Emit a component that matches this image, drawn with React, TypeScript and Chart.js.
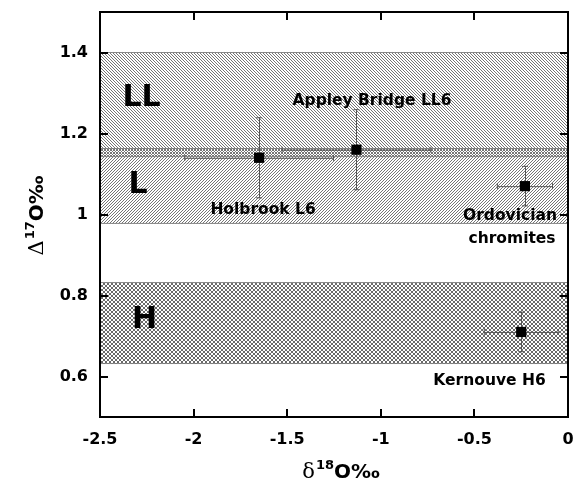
import React, { useEffect, useRef } from "react";
import { Chart, registerables } from "chart.js";

Chart.register(...registerables);

// ---- axis ticks ----
const xTickValues = [-2.5, -2, -1.5, -1, -0.5, 0];
const yTickValues = [0.6, 0.8, 1, 1.2, 1.4];
const xMin = -2.5;
const xMax = 0;
const yMin = 0.5;
const yMax = 1.5;

// ---- samples (delta18O, Delta17O with errors) ----
const sampleNames = ["Holbrook L6", "Appley Bridge LL6", "Ordovician chromites", "Kernouve H6"];
const d18O = [-1.65, -1.13, -0.23, -0.25];
const d18OErr = [0.4, 0.4, 0.15, 0.2];
const D17O = [1.14, 1.16, 1.07, 0.71];
const D17OErr = [0.1, 0.1, 0.05, 0.05];

// ---- chondrite group ranges ----
const groupNames = ["LL", "L", "H"];
const groupUpper = [1.4, 1.163, 0.832];
const groupLower = [1.143, 0.978, 0.632];

// ---- annotation texts and their anchors (data units) ----
const labelTexts = ["LL", "L", "H", "Appley Bridge LL6", "Holbrook L6", "Ordovician", "chromites", "Kernouve H6"];
const labelX = [-2.278, -2.297, -2.262, -1.047, -1.629, -0.31, -0.299, -0.419];
const labelY = [1.287, 1.072, 0.738, 1.281, 1.012, 0.996, 0.94, 0.59];

const W = 581;
const H = 484;

function makePattern(kind: string): CanvasPattern | string {
  const c = document.createElement("canvas");
  const n = kind === "cross" ? 4 : 3;
  c.width = n;
  c.height = n;
  const g = c.getContext("2d");
  if (!g) return "rgba(0,0,0,0.3)";
  g.fillStyle = kind === "cross" ? "#6a6a6a" : "#757575";
  for (let i = 0; i < n; i++) {
    if (kind === "back" || kind === "cross") g.fillRect(i, i, 1, 1);
    if (kind === "fwd" || kind === "cross") g.fillRect(n - 1 - i, i, 1, 1);
  }
  const p = g.createPattern(c, "repeat");
  return p || "rgba(0,0,0,0.3)";
}

const SANS_B = '"DejaVu Sans", sans-serif';

function drawTitle(ctx: CanvasRenderingContext2D, greek: string, sup: string) {
  const parts = [
    { t: greek, font: '21px "DejaVu Serif", serif', dy: 0 },
    { t: sup, font: "bold 13px " + SANS_B, dy: -9 },
    { t: "O\u2030", font: "bold 20px " + SANS_B, dy: 0 },
  ];
  let total = 0;
  const widths: number[] = [];
  for (const p of parts) {
    ctx.font = p.font;
    const w = ctx.measureText(p.t).width;
    widths.push(w);
    total += w;
  }
  let x = -total / 2;
  ctx.textBaseline = "alphabetic";
  ctx.textAlign = "left";
  ctx.fillStyle = "#000";
  parts.forEach((p, i) => {
    ctx.font = p.font;
    ctx.fillText(p.t, x, p.dy);
    x += widths[i] + (i === 0 ? 1 : 0);
  });
}

const decorPlugin = {
  id: "decor",
  beforeDatasetDraw(chart: any, args: any) {
    if (args.index !== 0) return;
    const ctx = chart.ctx as CanvasRenderingContext2D;
    const xs = chart.scales.x;
    const ys = chart.scales.y;
    const cap = 3;
    ctx.save();
    ctx.strokeStyle = "#555";
    ctx.lineWidth = 1;
    for (let i = 0; i < d18O.length; i++) {
      const px = xs.getPixelForValue(d18O[i]);
      const py = ys.getPixelForValue(D17O[i]);
      const x1 = xs.getPixelForValue(d18O[i] - d18OErr[i]);
      const x2 = xs.getPixelForValue(d18O[i] + d18OErr[i]);
      const y1 = ys.getPixelForValue(D17O[i] + D17OErr[i]);
      const y2 = ys.getPixelForValue(D17O[i] - D17OErr[i]);
      ctx.beginPath();
      ctx.moveTo(x1, py + 0.5);
      ctx.lineTo(x2, py + 0.5);
      ctx.moveTo(x1 + 0.5, py - cap);
      ctx.lineTo(x1 + 0.5, py + cap);
      ctx.moveTo(x2 - 0.5, py - cap);
      ctx.lineTo(x2 - 0.5, py + cap);
      ctx.moveTo(Math.round(px) + 0.5, y1);
      ctx.lineTo(Math.round(px) + 0.5, y2);
      ctx.moveTo(px - cap, y1 + 0.5);
      ctx.lineTo(px + cap, y1 + 0.5);
      ctx.moveTo(px - cap, y2 - 0.5);
      ctx.lineTo(px + cap, y2 - 0.5);
      ctx.stroke();
    }
    ctx.restore();
  },
  afterDatasetsDraw(chart: any) {
    const ctx = chart.ctx as CanvasRenderingContext2D;
    const xs = chart.scales.x;
    const ys = chart.scales.y;
    const a = chart.chartArea;
    ctx.save();
    ctx.fillStyle = "#000";
    ctx.textAlign = "center";
    ctx.textBaseline = "middle";
    for (let i = 0; i < labelTexts.length; i++) {
      const big = groupNames.indexOf(labelTexts[i]) >= 0;
      ctx.font = big ? "bold 30px " + SANS_B : "bold 15.5px " + SANS_B;
      ctx.fillText(labelTexts[i], xs.getPixelForValue(labelX[i]), ys.getPixelForValue(labelY[i]));
    }
    ctx.strokeStyle = "#000";
    ctx.lineWidth = 2;
    ctx.strokeRect(a.left, a.top, a.right - a.left, a.bottom - a.top);
    const tl = 8;
    ctx.beginPath();
    for (const v of xTickValues) {
      const px = Math.round(xs.getPixelForValue(v));
      ctx.moveTo(px, a.bottom);
      ctx.lineTo(px, a.bottom - tl);
      ctx.moveTo(px, a.top);
      ctx.lineTo(px, a.top + tl);
    }
    for (const v of yTickValues) {
      const py = Math.round(ys.getPixelForValue(v));
      ctx.moveTo(a.left, py);
      ctx.lineTo(a.left + tl, py);
      ctx.moveTo(a.right, py);
      ctx.lineTo(a.right - tl, py);
    }
    ctx.stroke();
    ctx.restore();
  },
  afterDraw(chart: any) {
    const ctx = chart.ctx as CanvasRenderingContext2D;
    ctx.save();
    ctx.translate(340.5, 478);
    drawTitle(ctx, "\u03b4", "18");
    ctx.restore();
    ctx.save();
    ctx.translate(43, 216);
    ctx.rotate(-Math.PI / 2);
    drawTitle(ctx, "\u0394", "17");
    ctx.restore();
  },
};

export default function App() {
  const ref = useRef<HTMLCanvasElement | null>(null);

  useEffect(() => {
    const canvas = ref.current;
    if (!canvas) return;
    const patterns = [makePattern("back"), makePattern("fwd"), makePattern("cross")];

    const bandSets: any[] = [];
    groupNames.forEach((name, i) => {
      bandSets.push({
        label: name + " upper",
        data: [
          { x: xMin, y: groupUpper[i] },
          { x: xMax, y: groupUpper[i] },
        ],
        showLine: true,
        borderColor: "#888",
        borderWidth: 1,
        pointRadius: 0,
        backgroundColor: patterns[i],
        fill: "+1",
        order: 10 + i * 2,
      });
      bandSets.push({
        label: name + " lower",
        data: [
          { x: xMin, y: groupLower[i] },
          { x: xMax, y: groupLower[i] },
        ],
        showLine: true,
        borderColor: "#888",
        borderWidth: 1,
        pointRadius: 0,
        fill: false,
        order: 11 + i * 2,
      });
    });

    const chart = new Chart(canvas, {
      type: "scatter",
      data: {
        datasets: [
          {
            label: "samples",
            data: sampleNames.map((_, i) => ({ x: d18O[i], y: D17O[i] })),
            pointStyle: "rect",
            pointRadius: 7.2,
            backgroundColor: "#000",
            borderWidth: 0,
            showLine: false,
            order: 0,
          },
          ...bandSets,
        ],
      },
      options: {
        responsive: false,
        animation: false,
        events: [],
        layout: { padding: { left: 0, right: 13, top: 12, bottom: 0 } },
        plugins: {
          legend: { display: false },
          tooltip: { enabled: false },
        },
        scales: {
          x: {
            type: "linear",
            min: xMin,
            max: xMax,
            grid: { display: false, drawTicks: false },
            border: { display: false },
            afterBuildTicks: (s: any) => {
              s.ticks = xTickValues.map((v) => ({ value: v }));
            },
            afterFit: (s: any) => {
              s.height = 67;
              s.paddingLeft = 0;
              s.paddingRight = 0;
              s.paddingTop = 0;
              s.paddingBottom = 0;
            },
            ticks: {
              padding: 13,
              color: "#000",
              maxRotation: 0,
              autoSkip: false,
              font: { family: "DejaVu Sans", weight: "bold", size: 16 },
              callback: (v: any) => String(v),
            },
          },
          y: {
            type: "linear",
            min: yMin,
            max: yMax,
            grid: { display: false, drawTicks: false },
            border: { display: false },
            afterBuildTicks: (s: any) => {
              s.ticks = yTickValues.map((v) => ({ value: v }));
            },
            afterFit: (s: any) => {
              s.width = 100;
              s.paddingLeft = 0;
              s.paddingRight = 0;
              s.paddingTop = 0;
              s.paddingBottom = 0;
            },
            ticks: {
              padding: 12,
              color: "#000",
              autoSkip: false,
              font: { family: "DejaVu Sans", weight: "bold", size: 16 },
              callback: (v: any) => String(v),
            },
          },
        },
      } as any,
      plugins: [decorPlugin],
    });
    return () => chart.destroy();
  }, []);

  return (
    <div style={{ position: "fixed", left: 0, top: 0, width: W, height: H, background: "#fff" }}>
      <canvas ref={ref} width={W} height={H} style={{ display: "block", width: W, height: H }} />
    </div>
  );
}
